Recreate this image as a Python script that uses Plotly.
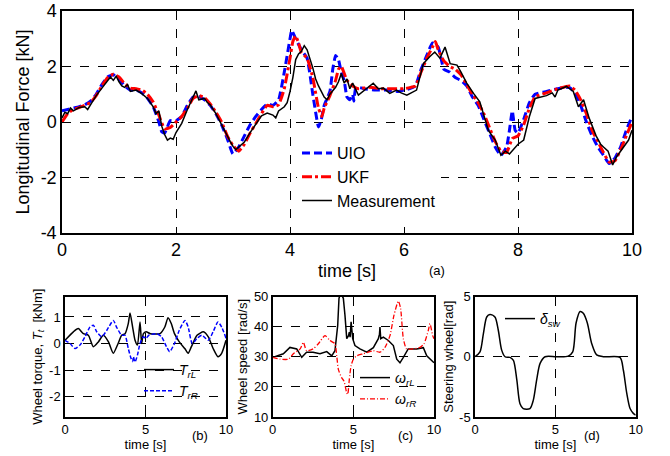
import plotly.graph_objects as go

# ---------------- data: panel (a) longitudinal force [kN] ----------------
t_uio = [0.0, 0.1, 0.2, 0.3, 0.4, 0.5, 0.6, 0.7, 0.8, 0.9, 1.0, 1.1, 1.2, 1.3, 1.4, 1.5, 1.6, 1.7, 1.75, 1.8,
         1.9, 2.0, 2.1, 2.2, 2.3, 2.4, 2.5, 2.6, 2.7, 2.8, 2.9, 3.0, 3.1, 3.2, 3.3, 3.4, 3.5, 3.6, 3.7, 3.8,
         3.9, 4.0, 4.03, 4.1, 4.2, 4.3, 4.4, 4.5, 4.55, 4.6, 4.7, 4.75, 4.8, 4.85, 4.9, 4.95, 5.0, 5.05, 5.1, 5.12,
         5.15, 5.2, 5.3, 5.5, 5.7, 5.9, 6.0, 6.1, 6.2, 6.3, 6.4, 6.5, 6.6, 6.7, 6.8, 6.9, 7.0, 7.1, 7.2, 7.3,
         7.4, 7.5, 7.6, 7.7, 7.8, 7.85, 7.9, 7.95, 8.0, 8.1, 8.2, 8.3, 8.5, 8.7, 8.9, 9.0, 9.1, 9.2, 9.3, 9.4,
         9.5, 9.6, 9.7, 9.8, 9.9, 10.0]
f_uio = [0.40, 0.45, 0.50, 0.55, 0.62, 0.75, 1.00, 1.35, 1.62, 1.70, 1.55, 1.30, 1.15, 1.15, 1.05, 0.85, 0.55, 0.00, -0.35, -0.40,
         0.05, 0.05, 0.20, 0.60, 0.90, 0.92, 0.80, 0.60, 0.30, -0.10, -0.60, -1.15, -0.90, -0.50, -0.10, 0.20, 0.45, 0.65, 0.60, 0.80,
         1.80, 3.00, 3.30, 3.00, 2.60, 2.30, 1.00, -0.18, 0.10, 0.60, 1.10, 1.90, 2.40, 2.25, 1.80, 1.50, 0.90, 0.80, 1.00, 0.75,
         1.20, 1.25, 1.20, 1.15, 1.15, 1.10, 1.15, 1.20, 1.30, 1.90, 2.40, 2.85, 2.70, 1.90, 1.80, 1.60, 1.50, 1.30, 0.90, 0.60,
         0.10, -0.40, -0.90, -1.20, -0.90, -0.30, 0.40, -0.30, -0.40, 0.10, 0.70, 1.00, 1.10, 1.20, 1.25, 1.05, 0.60, 0.00, -0.50, -0.90,
         -1.20, -1.50, -1.30, -0.90, -0.30, 0.20]

t_ukf = [0.0, 0.1, 0.2, 0.3, 0.4, 0.5, 0.6, 0.7, 0.8, 0.9, 1.0, 1.1, 1.2, 1.3, 1.4, 1.5, 1.6, 1.7, 1.8, 1.9,
         2.0, 2.1, 2.2, 2.3, 2.4, 2.5, 2.6, 2.7, 2.8, 2.9, 3.0, 3.1, 3.2, 3.3, 3.4, 3.5, 3.6, 3.7, 3.8, 3.9,
         4.0, 4.05, 4.1, 4.15, 4.2, 4.3, 4.4, 4.5, 4.56, 4.6, 4.7, 4.8, 4.85, 4.9, 5.0, 5.1, 5.2, 5.4, 5.6, 5.8,
         6.0, 6.2, 6.3, 6.4, 6.5, 6.55, 6.6, 6.7, 6.8, 6.9, 7.0, 7.1, 7.2, 7.3, 7.4, 7.5, 7.6, 7.7, 7.8, 7.9,
         8.0, 8.1, 8.2, 8.3, 8.5, 8.7, 8.9, 9.0, 9.1, 9.2, 9.3, 9.4, 9.5, 9.6, 9.7, 9.8, 9.9, 10.0]
f_ukf = [0.00, 0.30, 0.45, 0.52, 0.60, 0.70, 0.95, 1.30, 1.60, 1.72, 1.62, 1.38, 1.22, 1.20, 1.15, 1.00, 0.72, 0.25, -0.25, -0.20,
         0.00, 0.20, 0.50, 0.85, 0.95, 0.88, 0.65, 0.35, 0.00, -0.50, -0.85, -1.05, -0.80, -0.40, -0.05, 0.30, 0.60, 0.55, 0.62, 1.20,
         2.30, 2.90, 3.10, 2.85, 2.50, 2.30, 1.60, 0.50, 0.20, 0.50, 0.95, 1.50, 1.90, 2.00, 1.50, 1.30, 1.20, 1.25, 1.20, 1.20,
         1.20, 1.30, 1.80, 2.30, 2.70, 2.90, 2.60, 2.20, 2.00, 1.90, 1.70, 1.35, 1.00, 0.70, 0.30, -0.20, -0.70, -1.05, -1.10, -0.60,
         -0.50, -0.10, 0.50, 0.90, 1.05, 1.20, 1.30, 1.15, 0.80, 0.30, -0.30, -0.70, -1.10, -1.45, -1.40, -1.00, -0.50, 0.00]

t_meas = [0.0, 0.05, 0.1, 0.15, 0.2, 0.3, 0.4, 0.45, 0.5, 0.6, 0.7, 0.8, 0.85, 0.9, 0.95, 1.0, 1.05, 1.1, 1.15, 1.2,
          1.3, 1.4, 1.5, 1.6, 1.65, 1.7, 1.75, 1.8, 1.85, 1.9, 1.95, 2.0, 2.1, 2.2, 2.3, 2.35, 2.4, 2.5, 2.55, 2.6,
          2.7, 2.8, 2.85, 2.9, 2.95, 3.0, 3.05, 3.1, 3.2, 3.3, 3.4, 3.45, 3.5, 3.6, 3.7, 3.75, 3.8, 3.9, 3.95, 4.0,
          4.05, 4.1, 4.15, 4.2, 4.25, 4.3, 4.35, 4.4, 4.45, 4.5, 4.6, 4.65, 4.7, 4.8, 4.85, 4.9, 4.95, 5.0, 5.05, 5.1,
          5.2, 5.35, 5.46, 5.55, 5.64, 5.75, 5.87, 5.95, 6.05, 6.22, 6.34, 6.45, 6.54, 6.63, 6.72, 6.81, 6.93, 7.0, 7.1, 7.22,
          7.33, 7.48, 7.6, 7.7, 7.78, 7.85, 7.95, 8.0, 8.1, 8.2, 8.3, 8.4, 8.5, 8.6, 8.65, 8.7, 8.85, 8.97, 9.06, 9.15,
          9.25, 9.37, 9.45, 9.5, 9.58, 9.62, 9.66, 9.73, 9.8, 9.85, 9.94, 10.0]
f_meas = [0.15, 0.35, 0.30, 0.50, 0.40, 0.52, 0.55, 0.45, 0.62, 0.95, 1.22, 1.48, 1.62, 1.50, 1.65, 1.45, 1.30, 1.25, 1.35, 1.10,
          1.15, 1.02, 0.85, 0.55, 0.30, 0.40, -0.15, -0.45, -0.65, -0.58, -0.62, -0.38, -0.05, 0.45, 0.90, 1.12, 0.80, 0.85, 0.70, 0.62,
          0.30, -0.10, -0.30, -0.55, -0.70, -0.88, -1.00, -0.90, -0.72, -0.38, -0.10, 0.05, 0.22, 0.32, 0.25, 0.15, 0.40, 0.55, 0.70, 1.10,
          1.60, 2.25, 2.45, 2.55, 2.75, 2.60, 2.30, 1.95, 1.55, 1.30, 0.90, 0.80, 1.00, 1.25, 1.45, 1.75, 1.40, 1.55, 1.20, 1.40,
          0.97, 1.22, 1.40, 1.20, 1.22, 1.03, 1.15, 1.05, 0.97, 1.15, 2.10, 2.35, 2.52, 2.30, 2.70, 2.10, 2.05, 1.80, 1.40, 1.03,
          0.73, -0.30, -0.65, -1.20, -1.05, -1.15, -0.90, -0.80, -0.65, 0.20, 0.85, 0.90, 0.95, 1.05, 0.90, 1.15, 1.28, 1.10, 0.55, 0.80,
          0.13, -0.50, -0.80, -0.90, -1.05, -1.30, -1.55, -1.25, -1.05, -0.90, -0.65, -0.30]

# ---------------- data: panel (b) wheel torque [kNm] ----------------
tb_L = [0, 0.52, 0.83, 1.14, 1.45, 1.76, 2.07, 2.38, 2.7, 3.0, 3.3, 3.52, 3.73, 3.93, 4.04, 4.2, 4.35, 4.5, 4.66, 4.76,
        4.87, 5.04, 5.3, 5.9, 6.2, 6.4, 6.6, 6.8, 7.1, 7.45, 7.65, 7.85, 8.2, 8.6, 8.9, 9.2, 9.5, 9.73, 10]
Tb_L = [0.12, 0.44, 0.56, 0.37, 0.31, -0.12, 0.06, 0.31, 0.06, -0.37, 0.0, 0.31, 0.37, 0.75, 1.15, 0.62, 0.12, -0.06, 0.81, 0.0,
        0.37, 0.44, 0.37, 0.37, 0.62, 0.97, 0.75, 0.37, 0.06, -0.2, -0.37, -0.12, 0.31, 0.44, 0.25, -0.19, -0.5, -0.37, 0.12]
tb_R = [0, 0.31, 0.62, 0.93, 1.24, 1.55, 1.76, 1.97, 2.28, 2.6, 3.0, 3.2, 3.52, 3.73, 3.93, 4.1, 4.2, 4.25, 4.3, 4.35,
        4.5, 4.66, 4.87, 5.04, 5.2, 5.7, 6.0, 6.3, 6.5, 6.8, 7.1, 7.45, 7.65, 7.9, 8.2, 8.5, 8.9, 9.2, 9.5, 9.73, 10]
Tb_R = [0.12, 0.0, -0.19, -0.06, 0.25, 0.62, 0.69, 0.44, 0.25, 0.5, 0.87, 0.62, 0.31, 0.31, -0.19, -0.56, -0.68, -0.5, -0.62, -0.7,
        -0.44, 0.0, 0.25, 0.19, 0.31, 0.37, 0.25, -0.12, -0.31, 0.0, 0.5, 0.87, 0.62, 0.0, 0.19, 0.31, 0.12, 0.44, 0.81, 0.62, 0.2]

# ---------------- data: panel (c) wheel speed [rad/s] ----------------
tc_L = [0, 0.66, 1.07, 1.49, 1.8, 2.1, 2.5, 2.93, 3.35, 3.66, 3.86, 4.03, 4.11, 4.2, 4.28, 4.38, 4.48, 4.59, 4.7, 4.75,
        4.8, 4.86, 4.96, 5.1, 5.41, 5.83, 6.24, 6.55, 6.62, 6.65, 6.7, 6.86, 7.17, 7.48, 7.69, 7.89, 8.1, 8.4, 8.93, 9.34,
        9.55, 9.75, 10]
wc_L = [29.8, 31, 33.1, 32.6, 29.8, 31.5, 31.5, 31, 31.7, 30.3, 32, 40.4, 49.4, 51, 50.5, 49.4, 43.8, 36, 37, 38.2,
        36.5, 41.6, 36, 33.7, 32.6, 31.5, 33, 36, 37.5, 39.9, 36, 36.5, 35.4, 33.7, 29.2, 28, 29.8, 32.6, 32.6, 33,
        30.3, 29.2, 28]
tc_R = [0, 0.45, 0.97, 1.28, 1.7, 1.9, 2.1, 2.5, 2.83, 3.24, 3.55, 3.86, 3.97, 4.07, 4.28, 4.42, 4.59, 4.65, 4.75, 4.86,
        5.0, 5.2, 5.62, 6.24, 6.65, 6.96, 7.27, 7.52, 7.79, 7.93, 8.1, 8.3, 8.72, 9.13, 9.38, 9.65, 9.75, 9.92, 10]
wc_R = [29.8, 29.2, 29.2, 31, 32.6, 34.8, 32, 32.6, 34.3, 37, 35.4, 34.3, 30.3, 25.8, 23, 21.9, 18, 17.5, 22.5, 27,
        29.2, 30.3, 31, 32, 31.5, 33.1, 37, 43.8, 48.5, 46, 36, 32.6, 32.6, 33.1, 34.3, 38.8, 41, 37, 36]

# ---------------- data: panel (d) steering wheel [rad] ----------------
td = [0, 0.31, 0.52, 0.73, 0.93, 1.24, 1.45, 1.66, 1.87, 2.18, 2.39, 2.6, 2.8, 3.0, 3.42, 3.63, 3.84, 4.05, 4.36, 5.08,
      5.8, 6.08, 6.29, 6.54, 6.74, 6.99, 7.26, 7.57, 7.99, 9.02, 9.23, 9.44, 9.65, 9.85, 10]
dsw = [0, 0.4, 1.9, 3.3, 3.5, 3.3, 2.2, 0.55, 0.0, -0.05, -0.3, -1.9, -3.9, -4.3, -4.3, -3.6, -1.9, -0.55, 0.0, 0.0,
       0.05, 0.4, 2.8, 3.75, 3.6, 2.8, 1.1, 0.15, 0.0, -0.05, -1.1, -3.0, -4.3, -4.7, -4.85]

FONT = "Liberation Sans, Arial, sans-serif"

fig = go.Figure()

# panel (a)
fig.add_trace(go.Scatter(x=t_uio, y=f_uio, mode="lines", name="UIO", xaxis="x", yaxis="y",
                         line=dict(color="#0000ff", width=3, dash="8px,4px", shape="spline", smoothing=0.4)))
fig.add_trace(go.Scatter(x=t_ukf, y=f_ukf, mode="lines", name="UKF", xaxis="x", yaxis="y",
                         line=dict(color="#ff0000", width=3, dash="10px,3px,3px,3px", shape="spline", smoothing=0.4)))
fig.add_trace(go.Scatter(x=t_meas, y=f_meas, mode="lines", name="Measurement", xaxis="x", yaxis="y",
                         line=dict(color="black", width=1.5)))

# panel (b)
fig.add_trace(go.Scatter(x=tb_L, y=Tb_L, mode="lines", name="<i>T</i><sub><i>rL</i></sub>", xaxis="x2", yaxis="y2",
                         legend="legend2", line=dict(color="black", width=1.5, shape="spline", smoothing=0.6)))
fig.add_trace(go.Scatter(x=tb_R, y=Tb_R, mode="lines", name="<i>T</i><sub><i>rR</i></sub>", xaxis="x2", yaxis="y2",
                         legend="legend2", line=dict(color="#0000ff", width=1.5, dash="4px,2px", shape="spline", smoothing=0.6)))

# panel (c)
fig.add_trace(go.Scatter(x=tc_L, y=wc_L, mode="lines", name="<i>ω</i><sub><i>rL</i></sub>", xaxis="x3", yaxis="y3",
                         legend="legend3", line=dict(color="black", width=1.5)))
fig.add_trace(go.Scatter(x=tc_R, y=wc_R, mode="lines", name="<i>ω</i><sub><i>rR</i></sub>", xaxis="x3", yaxis="y3",
                         legend="legend3", line=dict(color="#ff0000", width=1.3, dash="5px,2px,1px,2px", shape="spline", smoothing=0.6)))

# panel (d)
fig.add_trace(go.Scatter(x=td, y=dsw, mode="lines", name="<i>δ</i><sub><i>sw</i></sub>", xaxis="x4", yaxis="y4",
                         legend="legend4", line=dict(color="black", width=1.5, shape="spline", smoothing=0.8)))


def ax(domain, rng, tickvals, ticktext, fsize, title, standoff, anchor):
    return dict(domain=domain, range=rng, tickvals=tickvals, ticktext=ticktext, anchor=anchor,
                automargin=False,
                showgrid=True, gridcolor="black", griddash="dash", gridwidth=1, zeroline=False,
                showline=True, mirror=True, linecolor="black", linewidth=1.5,
                ticks="inside", ticklen=4, tickcolor="black", tickfont=dict(size=fsize, color="black", family=FONT),
                title=dict(text=title, font=dict(size=fsize, color="black", family=FONT), standoff=standoff))


Y_BOT = [1 - 417 / 456, 1 - 296.5 / 456]

fig.update_layout(
    width=670, height=456, margin=dict(l=0, r=0, t=0, b=0, autoexpand=False),
    paper_bgcolor="white", plot_bgcolor="white",
    font=dict(family=FONT, color="black"),
    xaxis=ax([62 / 670, 632 / 670], [0, 10], [0, 2, 4, 6, 8, 10], ["0", "2", "4", "6", "8", "10"], 18, "time [s]", 5, "y"),
    yaxis=ax([1 - 233 / 456, 1 - 11 / 456], [-4, 4], [-4, -2, 0, 2, 4], ["-4", "-2", "0", "2", "4"], 18,
             "Longitudinal Force [kN]", 6, "x"),
    xaxis2=ax([65 / 670, 226 / 670], [0, 10], [0, 5, 10], ["0", "5", "10"], 13, "time [s]", 0, "y2"),
    yaxis2=ax(Y_BOT, [-2.77, 1.77], [-2, -1, 0, 1], ["-2", "-1", "0", "1"], 13,
              "Wheel torque, <i>T</i><sub><i>t</i></sub>  [kNm]", 4, "x2"),
    xaxis3=ax([272.7 / 670, 434 / 670], [0, 10], [0, 5, 10], ["0", "5", "10"], 13, "time [s]", 0, "y3"),
    yaxis3=ax(Y_BOT, [10, 50], [10, 20, 30, 40, 50], ["10", "20", "30", "40", "50"], 13, "Wheel speed [rad/s]", 3, "x3"),
    xaxis4=ax([475 / 670, 635.7 / 670], [0, 10], [0, 5, 10], ["0", "5", "10"], 13, "time [s]", 0, "y4"),
    yaxis4=ax(Y_BOT, [-5, 5], [-5, 0, 5], ["-5", "0", "5"], 13, "Steering wheel[rad]", 3, "x4"),
    legend=dict(x=297 / 670, y=1 - 136 / 456, xanchor="left", yanchor="top", bgcolor="white",
                font=dict(size=16, family=FONT, color="black"), borderwidth=0, tracegroupgap=0),
    legend2=dict(x=139 / 670, y=1 - 354 / 456, xanchor="left", yanchor="top", bgcolor="rgba(0,0,0,0)",
                 font=dict(size=14, family=FONT, color="black")),
    legend3=dict(x=355 / 670, y=1 - 362 / 456, xanchor="left", yanchor="top", bgcolor="rgba(0,0,0,0)",
                 font=dict(size=14, family=FONT, color="black")),
    legend4=dict(x=500 / 670, y=1 - 303 / 456, xanchor="left", yanchor="top", bgcolor="rgba(0,0,0,0)",
                 font=dict(size=14, family=FONT, color="black")),
    annotations=[
        dict(text="(a)", x=447 / 670, y=1 - 270 / 456, xref="paper", yref="paper", showarrow=False,
             font=dict(size=13, family=FONT, color="black")),
        dict(text="(b)", x=190 / 670, y=1 - 445 / 456, xref="paper", yref="paper", showarrow=False,
             font=dict(size=13, family=FONT, color="black")),
        dict(text="(c)", x=405 / 670, y=1 - 445 / 456, xref="paper", yref="paper", showarrow=False,
             font=dict(size=13, family=FONT, color="black")),
        dict(text="(d)", x=602 / 670, y=1 - 445 / 456, xref="paper", yref="paper", showarrow=False,
             font=dict(size=13, family=FONT, color="black")),
    ],
)

fig.write_html("out.html", config={"displayModeBar": False},
               post_script="document.body.style.margin='0';document.body.style.overflow='hidden';")
